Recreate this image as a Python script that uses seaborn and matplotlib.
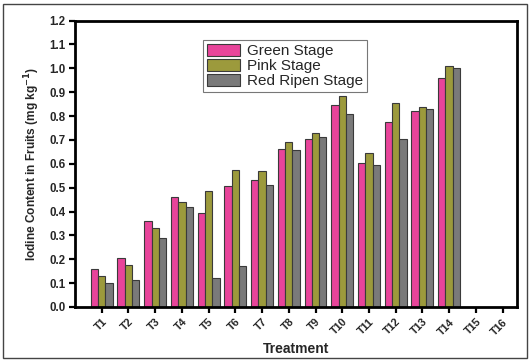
import matplotlib
matplotlib.use('Agg')
import matplotlib.pyplot as plt
import numpy as np
import pandas as pd
import seaborn as sns
from matplotlib.patches import Rectangle

treatments = [f'T{i}' for i in range(1, 17)]
stages = ['Green Stage', 'Pink Stage', 'Red Ripen Stage']
green_stage = [0.158, 0.207, 0.359, 0.459, 0.394, 0.506, 0.531, 0.663, 0.703,
               0.845, 0.603, 0.775, 0.820, 0.961, np.nan, np.nan]
pink_stage = [0.130, 0.178, 0.329, 0.439, 0.485, 0.572, 0.569, 0.691, 0.730,
              0.885, 0.646, 0.853, 0.839, 1.010, np.nan, np.nan]
red_ripen_stage = [0.099, 0.112, 0.290, 0.418, 0.123, 0.171, 0.512, 0.656, 0.712,
                   0.810, 0.596, 0.702, 0.831, 1.000, np.nan, np.nan]
colors = ['#e8449a', '#9c9a3c', '#7a7a7a']

df = pd.DataFrame({
    'Treatment': treatments * 3,
    'Stage': np.repeat(stages, len(treatments)),
    'Iodine': green_stage + pink_stage + red_ripen_stage,
})

sns.set_style('ticks')
plt.rcParams['font.family'] = ['Liberation Sans', 'DejaVu Sans']

fig = plt.figure(figsize=(5.3, 3.62), dpi=100)
ax = fig.add_axes([0.1415, 0.152, 0.834, 0.791])

sns.barplot(data=df, x='Treatment', y='Iodine', hue='Stage', order=treatments,
            hue_order=stages, palette=colors, width=0.82, gap=0,
            edgecolor='#3a3a3a', linewidth=0.8, saturation=1, ax=ax)

ax.set_xlim(-1, 15.54)
ax.set_ylim(0, 1.2)
ax.set_yticks(np.arange(0, 1.21, 0.1))
ax.set_yticklabels([f'{v:.1f}' for v in np.arange(0, 1.21, 0.1)],
                   fontsize=8.3, fontweight='bold')
ax.set_xticks(range(len(treatments)))
ax.set_xticklabels(treatments, rotation=45, ha='right', rotation_mode='anchor',
                   fontsize=7.8, fontweight='bold')
ax.set_xlabel('Treatment', fontsize=10, fontweight='bold', labelpad=4)
ax.set_ylabel('Iodine Content in Fruits (mg kg$^{\\mathbf{-1}}$)', fontsize=8.6,
              fontweight='bold', labelpad=5)

for spine in ax.spines.values():
    spine.set_visible(True)
    spine.set_linewidth(2)
    spine.set_color('black')
ax.tick_params(axis='both', direction='out', length=4.5, width=1.6, color='black', pad=2.5)

leg = ax.legend(loc='upper left', bbox_to_anchor=(0.383, 0.89),
                bbox_transform=fig.transFigure, fontsize=11, frameon=True,
                fancybox=False, edgecolor='#555555', borderaxespad=0,
                borderpad=0.25, handlelength=2.2, handleheight=0.85,
                handletextpad=0.45, labelspacing=0.05)
leg.get_frame().set_linewidth(0.8)

fig.patches.append(Rectangle((0.006, 0.011), 0.988, 0.977, transform=fig.transFigure,
                             fill=False, edgecolor='#444444', linewidth=1))

fig.savefig('out.png', dpi=100)
